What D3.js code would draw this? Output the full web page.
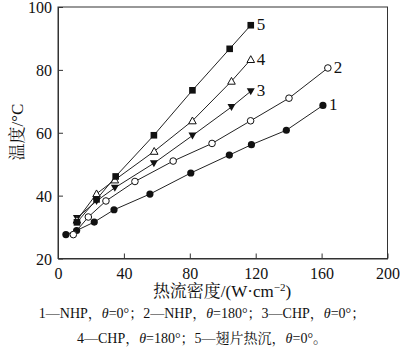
<!DOCTYPE html>
<html><head><meta charset="utf-8">
<script src="https://cdn.jsdelivr.net/npm/d3@7"></script>
<style>body{margin:0;background:#fff}svg{display:block}</style>
</head><body>
<svg id="c" width="400" height="351"></svg>
<script>
const xTicks = [0, 40, 80, 120, 160, 200];
const yTicks = [20, 40, 60, 80, 100];
const s1 = [[4.8,27.6],[11.3,28.9],[22,31.6],[34,35.5],[55.8,40.5],[80.6,47.2],[104,52.9],[117.4,56.2],[138.6,60.8],[160.8,68.7]];
const s2 = [[9.3,27.6],[18.4,33.2],[29.1,38.3],[46.7,44.5],[69.9,51.0],[93.5,56.6],[116.9,63.8],[140.2,71.0],[163.8,80.6]];
const s3 = [[11.5,32.9],[23.4,38.3],[34.5,42.5],[58.2,50.3],[81.6,59.1],[105.3,68.2],[117,73.2]];
const s4 = [[11.5,32.2],[23.4,40.6],[34.5,45.0],[58.4,54.1],[81.6,63.8],[105.3,76.4],[117,83.3]];
const s5 = [[11.5,31.5],[23.4,38.8],[35,46.1],[58.2,59.2],[81.6,73.5],[104.2,86.7],[117,94.2]];
const seriesNames = ["1","2","3","4","5"];
const markers = ["circleFilled","circleOpen","triDownFilled","triUpOpen","squareFilled"];
const xTitle = "热流密度/(W·cm";
const yTitle = "温度/°C";
const caption1 = "1—NHP，θ=0°；2—NHP，θ=180°；3—CHP，θ=0°；";
const caption2 = "4—CHP，θ=180°；5—翅片热沉，θ=0°。";

const svg = d3.select("#c");
const L=58, R=387.5, T=7, B=258.5;
const x = d3.scaleLinear().domain([0,200]).range([L,R]);
const y = d3.scaleLinear().domain([20,100]).range([B,T]);
const serif = "'Liberation Serif','Times New Roman',serif";
const cjk = "'Liberation Serif','Noto Serif CJK SC','Noto Sans CJK SC',serif";

svg.append("rect").attr("x",L).attr("y",T).attr("width",R-L).attr("height",B-T)
  .attr("fill","none").attr("stroke","#333").attr("stroke-width",1);

const gx = svg.append("g").attr("transform",`translate(0,${B})`)
  .call(d3.axisBottom(x).tickValues(xTicks).tickSizeInner(-5).tickSizeOuter(0).tickPadding(8));
const gy = svg.append("g").attr("transform",`translate(${L},0)`)
  .call(d3.axisLeft(y).tickValues(yTicks).tickSizeInner(-5).tickSizeOuter(0).tickPadding(6));
[gx,gy].forEach(g=>{
  g.select(".domain").attr("stroke","#333");
  g.selectAll(".tick line").attr("stroke","#333");
  g.selectAll(".tick text").attr("font-family",serif).attr("font-size",16).attr("fill","#111");
});
gx.selectAll(".tick text").attr("dy","0.75em");
gy.selectAll(".tick text").attr("dy","0.36em");

const all = [s1,s2,s3,s4,s5];
const line = d3.line().x(d=>x(d[0])).y(d=>y(d[1]));
all.forEach((s,i)=>{
  svg.append("path").attr("d",line(s)).attr("fill","none").attr("stroke","#222").attr("stroke-width",1);
});
all.forEach((s,i)=>{
  const m = markers[i];
  const g = svg.append("g");
  s.forEach(d=>{
    const cx=x(d[0]), cy=y(d[1]);
    if(m==="circleFilled") g.append("circle").attr("cx",cx).attr("cy",cy).attr("r",3.6).attr("fill","#111");
    else if(m==="circleOpen") g.append("circle").attr("cx",cx).attr("cy",cy).attr("r",3.3).attr("fill","#fff").attr("stroke","#111").attr("stroke-width",1);
    else if(m==="squareFilled") g.append("rect").attr("x",cx-3.3).attr("y",cy-3.3).attr("width",6.6).attr("height",6.6).attr("fill","#111");
    else if(m==="triDownFilled") g.append("path").attr("d",`M${cx-4},${cy-3} L${cx+4},${cy-3} L${cx},${cy+4} Z`).attr("fill","#111");
    else if(m==="triUpOpen") g.append("path").attr("d",`M${cx-3.8},${cy+3} L${cx+3.8},${cy+3} L${cx},${cy-3.8} Z`).attr("fill","#fff").attr("stroke","#111").attr("stroke-width",1);
  });
  const last = s[s.length-1];
  svg.append("text").attr("x",x(last[0])+6).attr("y",y(last[1])+5)
    .attr("font-family",serif).attr("font-size",17).attr("fill","#111").text(seriesNames[i]);
});

const xt = svg.append("text").attr("x",222).attr("y",297).attr("text-anchor","middle")
  .attr("font-family",cjk).attr("font-size",17).attr("fill","#111");
xt.append("tspan").text(xTitle);
xt.append("tspan").attr("font-size",11).attr("dy",-6).text("−2");
xt.append("tspan").attr("dy",6).text(")");

svg.append("text").attr("transform","translate(23,132) rotate(-90)").attr("text-anchor","middle")
  .attr("font-family",cjk).attr("font-size",17).attr("fill","#111").text(yTitle);

function cap(t,yy){
  const tx = svg.append("text").attr("x",202).attr("y",yy).attr("text-anchor","middle")
    .attr("font-family",cjk).attr("font-size",14).attr("fill","#111");
  t.split(/(θ)/).forEach(p=>{
    const ts = tx.append("tspan").text(p);
    if(p==="θ") ts.attr("font-style","italic");
  });
}
cap(caption1,318);
cap(caption2,343);
</script>
</body></html>
